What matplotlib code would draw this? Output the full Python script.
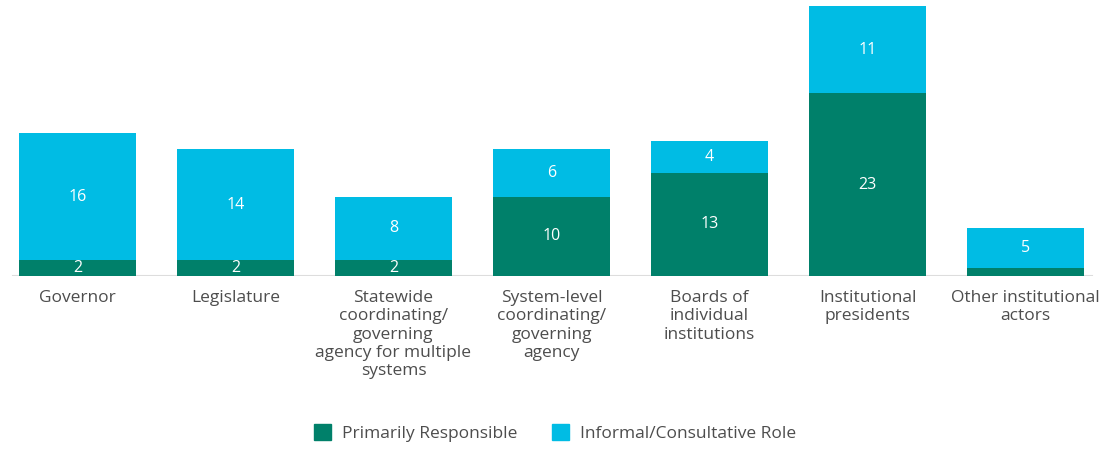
import numpy as np
import matplotlib
matplotlib.use("Agg")
from matplotlib import pyplot as plt
from matplotlib.patches import Patch

categories = [
    "Governor",
    "Legislature",
    "Statewide\ncoordinating/\ngoverning\nagency for multiple\nsystems",
    "System-level\ncoordinating/\ngoverning\nagency",
    "Boards of\nindividual\ninstitutions",
    "Institutional\npresidents",
    "Other institutional\nactors",
]
primary = [2, 2, 2, 10, 13, 23, 1]
informal = [16, 14, 8, 6, 4, 11, 5]
primary_labels = ["2", "2", "2", "10", "13", "23", ""]
informal_labels = ["16", "14", "8", "6", "4", "11", "5"]

green = "#00806A"
cyan = "#00BCE4"
text_col = "#4D4D4D"

plt.rcParams["font.family"] = ["Open Sans", "DejaVu Sans"]

W, H = 1103, 449
fig = plt.figure(figsize=(W / 100, H / 100), dpi=100)

px_per_unit = 7.94
base_px = 173
ytop = 34.5
ax = fig.add_axes([0, base_px / H, 1, ytop * px_per_unit / H])

x = np.arange(len(categories))
ax.bar(x, primary, width=0.74, color=green)
ax.bar(x, informal, bottom=primary, width=0.74, color=cyan)

for i in range(len(categories)):
    if primary_labels[i]:
        ax.text(x[i], primary[i] / 2, primary_labels[i], ha="center", va="center",
                color="white", fontsize=11.5)
    ax.text(x[i], primary[i] + informal[i] / 2, informal_labels[i], ha="center",
            va="center", color="white", fontsize=11.5)

ax.set_xlim(-0.49, 6.49)
ax.set_ylim(0, ytop)
ax.axhline(0, xmin=0.012, xmax=0.99, color="#DDDDDD", lw=1.5, zorder=0)

for s in ax.spines.values():
    s.set_visible(False)
ax.set_yticks([])
ax.set_xticks(x)
ax.set_xticklabels(categories, fontsize=12.5, color=text_col, linespacing=1.2)
ax.tick_params(axis="x", length=0, pad=10)

handles = [Patch(color=green, label="Primarily Responsible"),
           Patch(color=cyan, label="Informal/Consultative Role")]
fig.legend(handles=handles, loc="center", bbox_to_anchor=(555 / W, 1 - 433 / H),
           ncol=2, frameon=False, fontsize=12.5, labelcolor=text_col,
           handlelength=1.0, handleheight=1.0, columnspacing=2.0, handletextpad=0.6)

fig.savefig("out.png", dpi=100)
